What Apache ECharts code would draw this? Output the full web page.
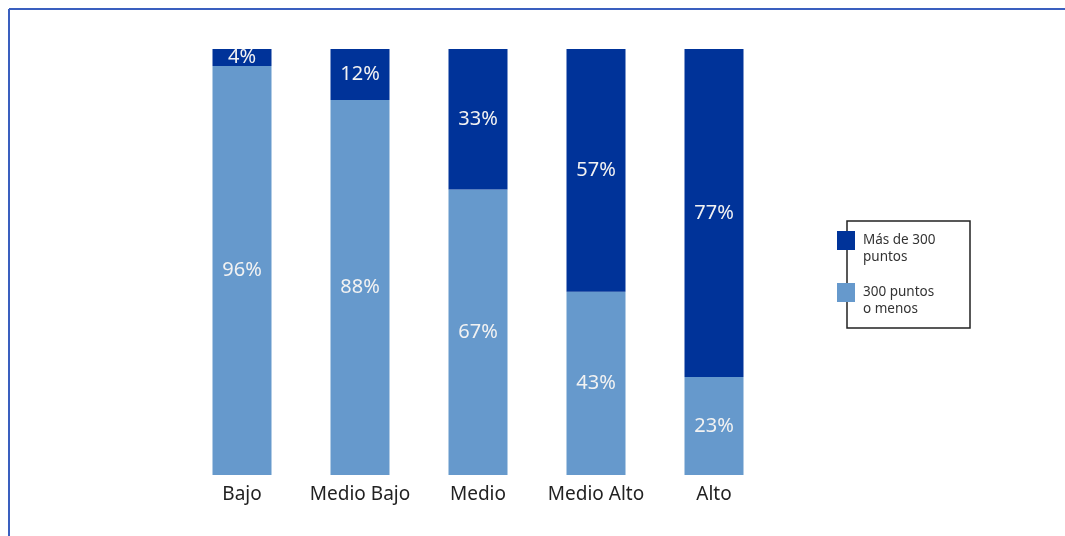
<!DOCTYPE html>
<html>
<head>
<meta charset="utf-8">
<script src="https://cdn.jsdelivr.net/npm/echarts@6/dist/echarts.min.js"></script>
<style>html,body{margin:0;padding:0;background:#fff}#c{width:1065px;height:536px}</style>
</head>
<body>
<div id="c"></div>
<script>
const categories = ['Bajo', 'Medio Bajo', 'Medio', 'Medio Alto', 'Alto'];
const seriesNames = ['Más de 300\npuntos', '300 puntos\no menos'];
const mas300 = [4, 12, 33, 57, 77];
const menos300 = [96, 88, 67, 43, 23];

const chart = echarts.init(document.getElementById('c'));
const font = 'Noto Sans';
const labelCfg = {
  show: true, position: 'inside', color: '#f2f2f2', fontSize: 20, fontFamily: font,
  formatter: p => p.value + '%'
};
chart.setOption({
  animation: false,
  grid: { left: 183, width: 590, top: 49, bottom: 61 },
  xAxis: {
    type: 'category', data: categories,
    axisLine: { show: false }, axisTick: { show: false },
    axisLabel: { color: '#222', fontSize: 19, fontFamily: font, margin: 10, interval: 0 }
  },
  yAxis: { type: 'value', min: 0, max: 100, show: false },
  legend: {
    orient: 'vertical', left: 837, top: 215, padding: 0, itemGap: 1,
    itemWidth: 18, itemHeight: 19, icon: 'rect',
    data: [seriesNames[0], seriesNames[1]],
    formatter: n => '\n' + n,
    textStyle: { color: '#333', fontSize: 13.5, fontFamily: font, lineHeight: 17, padding: [0, 0, 0, 3] }
  },
  graphic: [
    { type: 'line', shape: { x1: 9, y1: 9, x2: 1065, y2: 9 }, style: { stroke: '#3a5fbf', lineWidth: 2 } },
    { type: 'line', shape: { x1: 9, y1: 9, x2: 9, y2: 536 }, style: { stroke: '#3a5fbf', lineWidth: 2 } },
    { type: 'rect', z: -1, shape: { x: 847, y: 221, width: 123, height: 107 }, style: { fill: '#fff', stroke: '#222', lineWidth: 1.5 } }
  ],
  series: [
    { name: seriesNames[1], type: 'bar', stack: 't', data: menos300, barWidth: 59,
      itemStyle: { color: '#6699cc' }, label: labelCfg },
    { name: seriesNames[0], type: 'bar', stack: 't', data: mas300, barWidth: 59,
      itemStyle: { color: '#003399' }, label: labelCfg }
  ]
});
</script>
</body>
</html>
